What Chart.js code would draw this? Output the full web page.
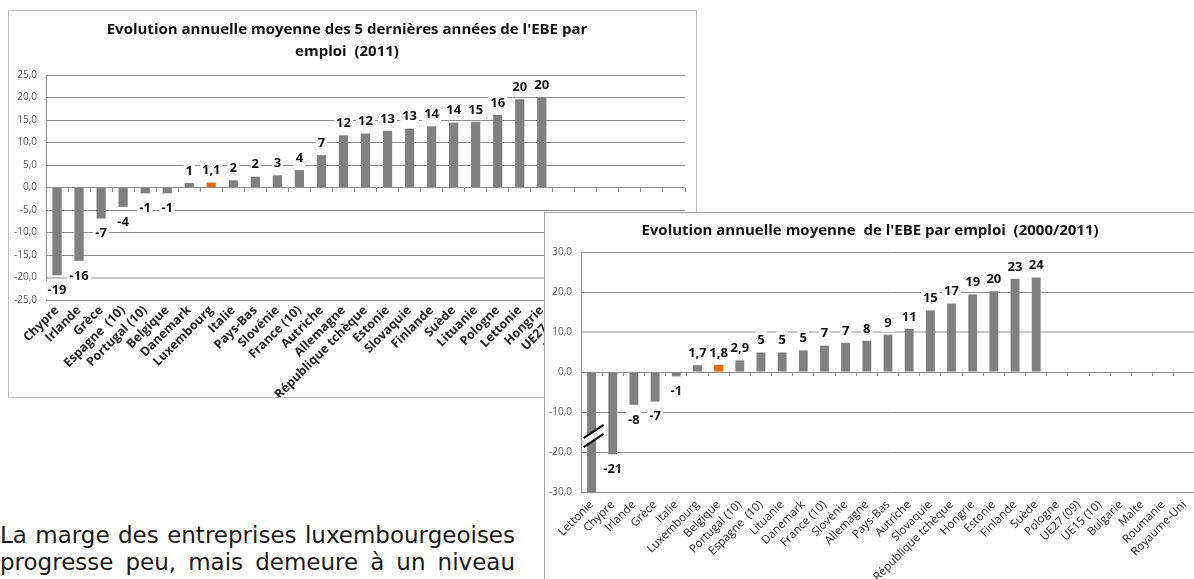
<!DOCTYPE html>
<html>
<head>
<meta charset="utf-8">
<script src="https://cdn.jsdelivr.net/npm/chart.js@4.4.1/dist/chart.umd.min.js"></script>
<style>
  html, body { margin: 0; padding: 0; background: #fff; }
  body { width: 1194px; height: 579px; overflow: hidden; position: relative; }
  .box { position: absolute; background: #fff; }
  #box1 { left: 8px; top: 10px; width: 687px; height: 386px; border: 1px solid #bdbdbd; }
  #box2 { left: 544px; top: 212px; width: 690px; height: 420px; border: 1px solid #a3a3a3; z-index: 2; }
  .txt { position: absolute; left: 0; width: 515px; font: 23px "DejaVu Sans", sans-serif;
         color: #1a1a1a; line-height: 27px; white-space: nowrap;
         text-align: justify; text-align-last: justify; }
</style>
</head>
<body>
<div class="box" id="box1"><canvas id="c1" width="687" height="386"></canvas></div>
<div class="box" id="box2"><canvas id="c2" width="690" height="420"></canvas></div>
<div class="txt" style="top:522px">La marge des entreprises luxembourgeoises</div>
<div class="txt" style="top:549px">progresse peu, mais demeure à un niveau</div>
<script>
// --- graphique 1 : 5 dernières années (2011)
const pays1 = ["Chypre", "Irlande", "Grèce", "Espagne  (10)", "Portugal (10)", "Belgique", "Danemark",
  "Luxembourg", "Italie", "Pays-Bas", "Slovénie", "France (10)", "Autriche", "Allemagne",
  "République tchèque", "Estonie", "Slovaquie", "Finlande", "Suède", "Lituanie", "Pologne",
  "Lettonie", "Hongrie", "UE27 (09)", "UE15 (10)", "Bulgarie", "Malte", "Roumanie", "Royaume-Uni"];
const evol1 = [-19.5, -16.3, -6.9, -4.3, -1.3, -1.3, 1.0, 1.1, 1.6, 2.4, 2.7, 3.9, 7.2, 11.6,
  12.0, 12.6, 13.1, 13.6, 14.4, 14.6, 16.1, 19.6, 20.0, null, null, null, null, null, null];
const etiq1 = ["-19", "-16", "-7", "-4", "-1", "-1", "1", "1,1", "2", "2", "3", "4", "7", "12",
  "12", "13", "13", "14", "14", "15", "16", "20", "20"];

// --- graphique 2 : 2000/2011
const pays2 = ["Lettonie", "Chypre", "Irlande", "Grèce", "Italie", "Luxembourg", "Belgique",
  "Portugal (10)", "Espagne  (10)", "Lituanie", "Danemark", "France (10)", "Slovénie", "Allemagne",
  "Pays-Bas", "Autriche", "Slovaquie", "République tchèque", "Hongrie", "Estonie", "Finlande",
  "Suède", "Pologne", "UE27 (09)", "UE15 (10)", "Bulgarie", "Malte", "Roumanie", "Royaume-Uni"];
const evol2 = [-30, -20.6, -8.2, -7.4, -1.1, 1.7, 1.8, 2.9, 4.9, 4.9, 5.4, 6.6, 7.3, 7.8,
  9.3, 10.8, 15.4, 17.1, 19.4, 20.2, 23.3, 23.6, null, null, null, null, null, null, null];
const etiq2 = [null, "-21", "-8", "-7", "-1", "1,7", "1,8", "2,9", "5", "5", "5", "7", "7", "8",
  "9", "11", "15", "17", "19", "20", "23", "24"];

const GRIS = "#808080", ORANGE = "#e46c0a";
const FONT = "'Open Sans', 'Liberation Sans', sans-serif";

// étiquettes de valeur avec fond blanc
const barLabels = {
  id: "barLabels",
  afterDatasetsDraw(chart, args, opts) {
    const ctx = chart.ctx;
    const meta = chart.getDatasetMeta(0);
    const vals = chart.data.datasets[0].data;
    ctx.save();
    ctx.font = "bold 13px " + FONT;
    ctx.textAlign = "center";
    ctx.textBaseline = "middle";
    const items = [];
    meta.data.forEach((bar, i) => {
      const t = opts.texts[i];
      if (t == null || vals[i] == null) return;
      const top = Math.min(bar.y, bar.base), bottom = Math.max(bar.y, bar.base);
      const y = vals[i] >= 0 ? top - 12 : bottom + 15;
      items.push({ t, x: bar.x, y, w: ctx.measureText(t).width + 4 });
    });
    ctx.fillStyle = "#fff";
    items.forEach(it => ctx.fillRect(it.x - it.w / 2, it.y - 9, it.w, 18));
    ctx.fillStyle = "#111";
    items.forEach(it => ctx.fillText(it.t, it.x, it.y));
    ctx.restore();
  }
};

// rupture d'échelle sur la première barre du graphique 2
const breakMark = {
  id: "breakMark",
  afterDatasetsDraw(chart, args, opts) {
    if (!opts || opts.index == null) return;
    const bar = chart.getDatasetMeta(0).data[opts.index];
    const y = chart.scales.y.getPixelForValue(opts.value);
    const x = bar.x + 2, dx = 10, dy = 6.6, g = 4.5;
    const ctx = chart.ctx;
    ctx.save();
    ctx.fillStyle = "#fff";
    ctx.beginPath();
    ctx.moveTo(x - dx, y - g + dy);
    ctx.lineTo(x + dx, y - g - dy);
    ctx.lineTo(x + dx, y + g - dy);
    ctx.lineTo(x - dx, y + g + dy);
    ctx.closePath();
    ctx.fill();
    ctx.strokeStyle = "#000";
    ctx.lineWidth = 2;
    ctx.beginPath();
    ctx.moveTo(x - dx, y - g + dy); ctx.lineTo(x + dx, y - g - dy);
    ctx.moveTo(x - dx, y + g + dy); ctx.lineTo(x + dx, y + g - dy);
    ctx.stroke();
    ctx.restore();
  }
};

function makeChart(id, cfg) {
  const couleurs = cfg.pays.map(p => p === cfg.highlight ? ORANGE : GRIS);
  return new Chart(document.getElementById(id), {
    type: "bar",
    data: {
      labels: cfg.pays,
      datasets: [{ data: cfg.values, backgroundColor: couleurs, barPercentage: 0.42, categoryPercentage: 1 }]
    },
    plugins: [barLabels, breakMark],
    options: {
      responsive: false,
      animation: false,
      events: [],
      layout: { padding: { left: 0, right: cfg.padRight, top: 0, bottom: 0 } },
      plugins: {
        legend: { display: false },
        tooltip: { enabled: false },
        title: {
          display: true,
          text: cfg.title,
          color: "#111",
          font: { family: FONT, size: cfg.titleSize, weight: "bold", lineHeight: cfg.titleLine },
          padding: cfg.titlePad
        },
        barLabels: { texts: cfg.texts },
        breakMark: cfg.breakMark || {}
      },
      scales: {
        x: {
          type: "category",
          position: "bottom",
          grid: { display: false, drawTicks: false },
          border: { display: false },
          ticks: {
            autoSkip: false, minRotation: 45, maxRotation: 45, padding: cfg.xPad,
            color: "#262626", font: { family: FONT, size: cfg.xSize, weight: cfg.xWeight }
          },
          afterFit(s) { s.height = cfg.xHeight; }
        },
        xt: {
          type: "category",
          position: { y: 0 },
          offset: true,
          grid: { offset: true, drawOnChartArea: false, drawTicks: true, tickLength: 4, color: "#8a8a8a" },
          border: { display: false },
          ticks: { display: false }
        },
        y: {
          min: cfg.min, max: cfg.max,
          ticks: {
            stepSize: cfg.step, padding: 9, color: "#595959",
            font: { family: FONT, size: 10 },
            callback: v => v.toFixed(1).replace(".", ",")
          },
          grid: {
            drawTicks: false,
            color: c => c.tick && c.tick.value === cfg.lightLine ? "#c8c8c8" : "#8c8c8c",
            lineWidth: c => c.tick && c.tick.value === cfg.lightLine ? 2 : 1
          },
          border: { display: true, color: "#8c8c8c" },
          afterFit(s) { s.width = cfg.yWidth; }
        }
      }
    }
  });
}

makeChart("c1", {
  pays: pays1, values: evol1, texts: etiq1, highlight: "Luxembourg",
  title: ["Evolution annuelle moyenne des 5 dernières années de l'EBE par", "emploi  (2011)"],
  titleSize: 15, titleLine: 22 / 15, titlePad: { top: 8, bottom: 12 },
  min: -25, max: 25, step: 5, lightLine: -20,
  yWidth: 37, xHeight: 97, padRight: 11, xSize: 12.5, xWeight: "bold", xPad: 3
});

makeChart("c2", {
  pays: pays2, values: evol2, texts: etiq2, highlight: "Belgique",
  title: "Evolution annuelle moyenne  de l'EBE par emploi  (2000/2011)",
  titleSize: 15, titleLine: 18 / 15, titlePad: { top: 9, bottom: 12 },
  min: -30, max: 30, step: 10, lightLine: 10,
  yWidth: 36, xHeight: 141, padRight: 40, xSize: 11.5, xWeight: "normal", xPad: 6,
  breakMark: { index: 0, value: -16 }
});
</script>
</body>
</html>
